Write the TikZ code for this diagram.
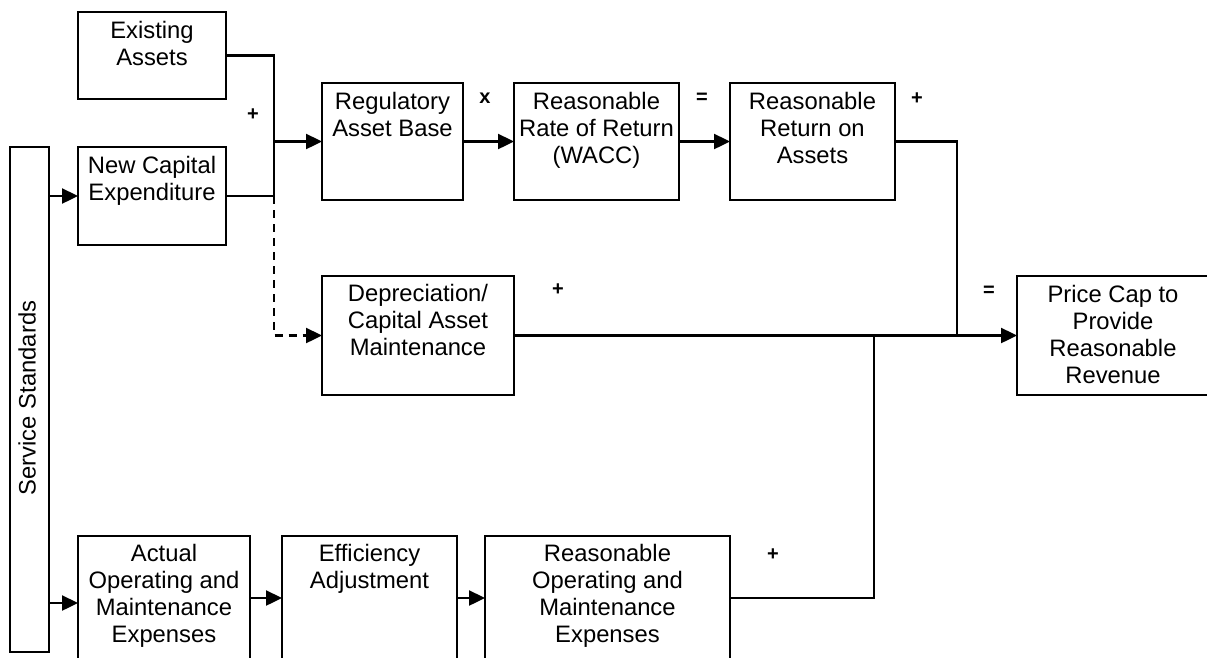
\documentclass[tikz,border=0pt]{standalone}
\usepackage{fontspec}
\setmainfont{Liberation Sans}
\usetikzlibrary{arrows.meta,calc,positioning}
\begin{document}
\begin{tikzpicture}[x=1pt,y=-1pt,
  box/.style={draw, line width=2.2pt, inner sep=0pt, outer sep=0pt, anchor=north west},
  txt/.style={align=center, inner sep=0pt, font=\fontsize{23.8}{27}\selectfont},
  sign/.style={font=\fontsize{20}{20}\selectfont\bfseries, inner sep=0pt},
  conn/.style={line width=2.4pt},
  arr/.style={conn, -{Triangle[length=16pt,width=15pt]}},
]
\useasboundingbox (0,0) rectangle (1207,657);
\clip (0,0) rectangle (1207,657);

% boxes
\node[box, minimum width=148pt, minimum height=87pt]  (EA)   at (78,12) {};
\node[box, minimum width=148pt, minimum height=98pt]  (NCE)  at (78,147) {};
\node[box, minimum width=39pt,  minimum height=505pt] (SS)   at (10,147) {};
\node[box, minimum width=141pt, minimum height=117pt] (RAB)  at (322,83) {};
\node[box, minimum width=165pt, minimum height=117pt] (WACC) at (514,83) {};
\node[box, minimum width=165pt, minimum height=117pt] (ROA)  at (730,83) {};
\node[box, minimum width=192pt, minimum height=119pt] (DEP)  at (322,276) {};
\node[box, minimum width=192pt, minimum height=119pt] (PC)   at (1017,276) {};
\node[box, minimum width=172pt, minimum height=124pt] (AOM)  at (78,536) {};
\node[box, minimum width=175pt, minimum height=124pt] (EFF)  at (282,536) {};
\node[box, minimum width=245pt, minimum height=124pt] (ROME) at (485,536) {};

% texts
\node[txt, below=8pt of EA.north]   (EAt)   {\rule{0pt}{18pt}Existing\\Assets};
\node[txt, below=8pt of NCE.north]  (NCEt)  {\rule{0pt}{18pt}New Capital\\Expenditure};
\node[txt, below=8pt of RAB.north]  (RABt)  {\rule{0pt}{18pt}Regulatory\\Asset Base};
\node[txt, below=8pt of WACC.north] (WACCt) {\rule{0pt}{18pt}Reasonable\\Rate of Return\\(WACC)};
\node[txt, below=8pt of ROA.north]  (ROAt)  {\rule{0pt}{18pt}Reasonable\\Return on\\Assets};
\node[txt, below=7pt of DEP.north]  (DEPt)  {\rule{0pt}{18pt}Depreciation/\\Capital Asset\\Maintenance};
\node[txt, below=8pt of PC.north]   (PCt)   {\rule{0pt}{18pt}Price Cap to\\Provide\\Reasonable\\Revenue};
\node[txt, below=7pt of AOM.north]  (AOMt)  {\rule{0pt}{18pt}Actual\\Operating and\\Maintenance\\Expenses};
\node[txt, below=7pt of EFF.north]  (EFFt)  {\rule{0pt}{18pt}Efficiency\\Adjustment};
\node[txt, below=7pt of ROME.north] (ROMEt) {\rule{0pt}{18pt}Reasonable\\Operating and\\Maintenance\\Expenses};
\node[txt, rotate=90] (SSt) at (27,398) {Service Standards};

% operator signs
\node[sign] (s1) at (253,115) {+};
\node[sign] (s2) at (485,98)  {x};
\node[sign] (s3) at (702,98)  {=};
\node[sign] (s4) at (917,99)  {+};
\node[sign] (s5) at (558,290) {+};
\node[sign] (s6) at (989,291) {=};
\node[sign] (s7) at (773,555) {+};

% connectors
\coordinate (jL) at ($(EA.east)+(48,0)$);
\draw[conn] (EA.east) -| (jL |- NCE.east) -- (NCE.east);
\draw[arr] (jL |- RAB.west) -- (RAB.west);
\draw[arr, dash pattern=on 8pt off 6pt] (jL |- NCE.east) |- (DEP.west);
\draw[arr] (SS.east |- NCE.west) -- (NCE.west);
\draw[arr] (RAB.east) -- (WACC.west);
\draw[arr] (WACC.east) -- (ROA.west);
\coordinate (j1) at ($(PC.west)+(-60,0)$);
\coordinate (j2) at ($(PC.west)+(-143,0)$);
\draw[conn] (ROA.east) -| (j1);
\draw[arr] (DEP.east) -- (PC.west);
\draw[conn] (ROME.east) -| (j2);
\coordinate (aS) at ($(AOM.west)+(0,5)$);
\draw[arr] (SS.east |- aS) -- (aS);
\draw[arr] (AOM.east) -- (EFF.west);
\draw[arr] (EFF.east) -- (ROME.west);
\end{tikzpicture}
\end{document}
